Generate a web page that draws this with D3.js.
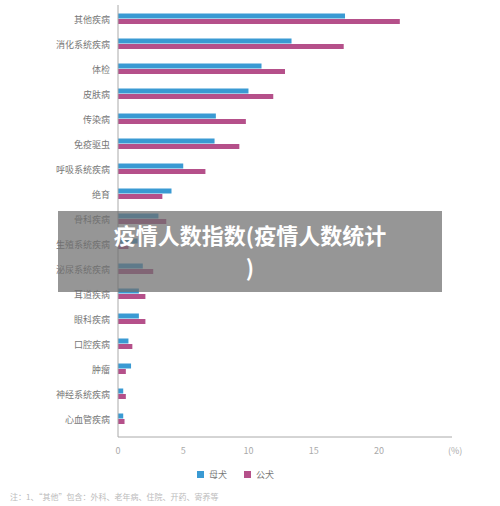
<!DOCTYPE html><html><head><meta charset="utf-8"><script src="https://cdn.jsdelivr.net/npm/d3@7"></script>
<style>body{margin:0;background:#fff;font-family:"Noto Sans CJK SC",sans-serif}</style></head><body><svg width="500" height="506"></svg>
<script>
const categories=["其他疾病","消化系统疾病","体检","皮肤病","传染病","免疫驱虫","呼吸系统疾病","绝育","骨科疾病","生殖系统疾病","泌尿系统疾病","耳道疾病","眼科疾病","口腔疾病","肿瘤","神经系统疾病","心血管疾病"];
const female=[17.4,13.3,11.0,10.0,7.5,7.4,5.0,4.1,3.1,1.5,1.9,1.6,1.6,0.8,1.0,0.4,0.4];
const male=[21.6,17.3,12.8,11.9,9.8,9.3,6.7,3.4,3.7,0.8,2.7,2.1,2.1,1.1,0.6,0.6,0.5];
const xTicks=[0,5,10,15,20];
const svg=d3.select("svg");
const x=d3.scaleLinear().domain([0,25.6]).range([118,452]);
const y=d3.scaleBand().domain(categories).range([7,432]);
const blue="#3a9ad3",pink="#b5508a",tc="#777";
const g=svg.append("g");
categories.forEach((c,i)=>{
 const yc=y(c)+y.bandwidth()/2;
 g.append("rect").attr("x",x(0)).attr("y",yc-6).attr("width",x(female[i])-x(0)).attr("height",5).attr("fill",blue);
 g.append("rect").attr("x",x(0)).attr("y",yc-0.5).attr("width",x(male[i])-x(0)).attr("height",5).attr("fill",pink);
 g.append("text").attr("x",110).attr("y",yc).attr("dy","0.35em").attr("text-anchor","end").attr("font-size",9).attr("fill",tc).text(c);
});
svg.append("line").attr("x1",x(0)).attr("x2",x(0)).attr("y1",5).attr("y2",437).attr("stroke","#aaa");
svg.append("line").attr("x1",x(0)).attr("x2",452).attr("y1",437).attr("y2",437).attr("stroke","#aaa");
xTicks.forEach(t=>svg.append("text").attr("x",x(t)).attr("y",454).attr("text-anchor","middle").attr("font-size",9).attr("fill","#aaa").text(t));
svg.append("text").attr("x",448).attr("y",454).attr("font-size",9).attr("fill","#aaa").text("(%)");
[["母犬",blue,197],["公犬",pink,244]].forEach(([t,c,px])=>{svg.append("rect").attr("x",px).attr("y",471).attr("width",7).attr("height",7).attr("fill",c);svg.append("text").attr("x",px+12).attr("y",478).attr("font-size",9).attr("fill",tc).text(t);});
svg.append("text").attr("x",10).attr("y",500).attr("font-size",8).attr("fill","#bbb").text("注：1、“其他”包含：外科、老年病、住院、开药、寄养等");
svg.append("rect").attr("x",58).attr("y",211).attr("width",384).attr("height",81).attr("fill","rgba(110,110,110,0.72)");
svg.append("text").attr("x",250).attr("y",244).attr("text-anchor","middle").attr("font-size",22).attr("font-weight","bold").attr("fill","#fff").text("疫情人数指数(疫情人数统计");
svg.append("text").attr("x",250).attr("y",276).attr("text-anchor","middle").attr("font-size",22).attr("font-weight","bold").attr("fill","#fff").text(")");
</script></body></html>
